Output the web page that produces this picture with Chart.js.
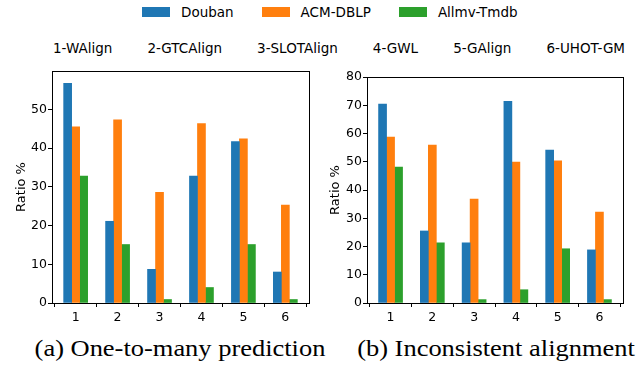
<!DOCTYPE html>
<html>
<head>
<meta charset="utf-8">
<script src="https://cdn.jsdelivr.net/npm/chart.js@4.4.1/dist/chart.umd.min.js"></script>
<style>
  body { margin: 0; width: 638px; height: 367px; position: relative; overflow: hidden; background: #fff; font-family: "DejaVu Sans", sans-serif; color: #000; }
  canvas { position: absolute; }
  #legend1 { position: absolute; left: 142px; top: 4px; display: flex; gap: 28px; font-size: 13.5px; line-height: 16px; }
  #legend1 .item { display: flex; align-items: center; }
  #legend1 .box { width: 28px; height: 10px; margin-right: 11px; }
  #legend2 { position: absolute; left: 53px; top: 40px; display: flex; gap: 35px; font-size: 13.5px; line-height: 16px; }
  .caption { position: absolute; top: 336px; font-family: "Liberation Serif", "Times New Roman", serif; font-size: 23px; line-height: 26px; text-align: center; white-space: nowrap; transform: scaleX(1.15); }
</style>
</head>
<body>
<div id="legend1"></div>
<div id="legend2"></div>
<canvas id="chartA" width="318" height="270" style="left:0;top:60px"></canvas>
<canvas id="chartB" width="320" height="270" style="left:318px;top:60px"></canvas>
<div class="caption" style="left:30px;width:300px">(a) One-to-many prediction</div>
<div class="caption" style="left:346px;width:300px">(b) Inconsistent alignment</div>
<script>
const positions = [1, 2, 3, 4, 5, 6];
const methods = ["1-WAlign", "2-GTCAlign", "3-SLOTAlign", "4-GWL", "5-GAlign", "6-UHOT-GM"];
const seriesNames = ["Douban", "ACM-DBLP", "Allmv-Tmdb"];
const colors = ["#1f77b4", "#ff7f0e", "#2ca02c"];

// (a) one-to-many prediction
const oneToManyDouban = [56.7, 21.1, 8.7, 32.8, 41.7, 8.0];
const oneToManyAcm = [45.5, 47.3, 28.6, 46.3, 42.4, 25.3];
const oneToManyAllmv = [32.8, 15.1, 0.9, 4.0, 15.1, 0.9];
const yTicksA = [0, 10, 20, 30, 40, 50];

// (b) inconsistent alignment
const inconsDouban = [70.4, 25.5, 21.3, 71.4, 54.1, 18.8];
const inconsAcm = [58.7, 55.9, 36.8, 49.9, 50.3, 32.2];
const inconsAllmv = [48.1, 21.3, 1.2, 4.7, 19.2, 1.2];
const yTicksB = [0, 10, 20, 30, 40, 50, 60, 70, 80];

// html legend rows
const lg1 = document.getElementById("legend1");
seriesNames.forEach((name, i) => {
  lg1.innerHTML += `<div class="item"><span class="box" style="background:${colors[i]}"></span><span>${name}</span></div>`;
});
const lg2 = document.getElementById("legend2");
methods.forEach((m) => { lg2.innerHTML += `<span>${m}</span>`; });

// black box around the plot area, like matplotlib spines
const frame = {
  id: "frame",
  afterDraw(chart) {
    const {ctx, chartArea: a} = chart;
    ctx.save();
    ctx.strokeStyle = "#000";
    ctx.lineWidth = 1;
    ctx.strokeRect(Math.round(a.left) + 0.5, Math.round(a.top) + 0.5, Math.round(a.right - a.left), Math.round(a.bottom - a.top));
    ctx.restore();
  }
};

function makeChart(id, values, yMax, yTicks, pad, yWidth, titlePad) {
  const datasets = values.map((vals, i) => ({
    label: seriesNames[i],
    data: vals.map((v, j) => ({x: positions[j], y: v})),
    backgroundColor: colors[i],
    borderWidth: 0,
    barThickness: 8
  }));
  const tickFont = {family: "DejaVu Sans", size: 12.5};
  return new Chart(document.getElementById(id), {
    type: "bar",
    data: {datasets: datasets},
    plugins: [frame],
    options: {
      responsive: false,
      animation: false,
      devicePixelRatio: 1,
      layout: {padding: pad},
      plugins: {legend: {display: false}, tooltip: {enabled: false}},
      scales: {
        x: {
          type: "linear",
          min: 0.436,
          max: 6.564,
          offset: false,
          grid: {drawOnChartArea: false, drawTicks: true, tickLength: 4, color: "#000"},
          border: {display: false},
          ticks: {padding: 3, color: "#000", font: tickFont, autoSkip: false},
          afterBuildTicks: (s) => { s.ticks = positions.map(v => ({value: v})); },
          afterFit: (s) => { s.height = 27; }
        },
        y: {
          min: 0,
          max: yMax,
          grid: {drawOnChartArea: false, drawTicks: true, tickLength: 4, color: "#000"},
          border: {display: false},
          ticks: {padding: 1, color: "#000", font: tickFont, autoSkip: false},
          afterBuildTicks: (s) => { s.ticks = yTicks.map(v => ({value: v})); },
          afterFit: (s) => { s.width = yWidth; },
          title: {display: true, text: "Ratio %", color: "#000", font: {family: "DejaVu Sans", size: 13}, padding: {top: titlePad, bottom: 0}}
        }
      }
    }
  });
}

makeChart("chartA", [oneToManyDouban, oneToManyAcm, oneToManyAllmv], 59.9, yTicksA, {top: 11, right: 9, left: 0, bottom: 0}, 52, 14);
makeChart("chartB", [inconsDouban, inconsAcm, inconsAllmv], 80, yTicksB, {top: 17, right: 15, left: 0, bottom: 0}, 49, 10);
</script>
</body>
</html>
